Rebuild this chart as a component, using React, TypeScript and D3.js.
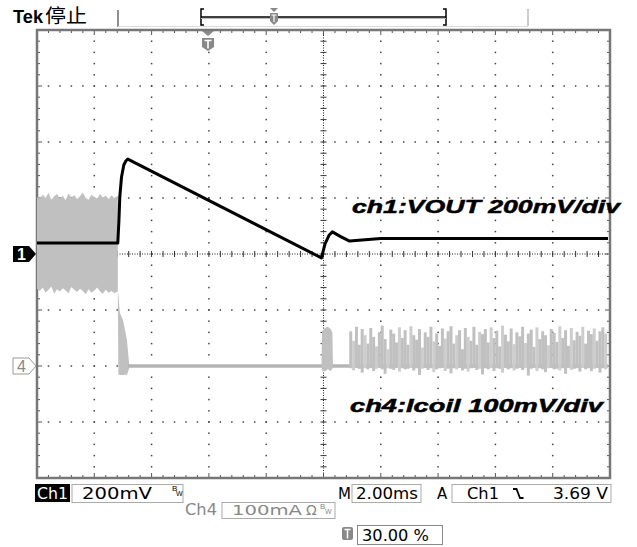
import React from "react";
import * as d3 from "d3";

// ---- data (time in ms, ch1 in mV rel. to marker, ch4 in mA rel. to marker) ----
const ch1Time = [0, 2.82, 2.86, 2.89, 2.95, 3.03, 3.1, 3.17, 9.93, 10.05, 10.2, 10.31, 10.6, 10.91, 12, 19.93];
const ch1Mv = [39, 39, 120, 204, 275, 318, 332, 339, -14, 35, 68, 79, 62, 46, 55, 55];

const bandStart = 0;
const bandStep = 0.1;
const bandUpper = [302, 298, 306, 300, 309, 297, 303, 307, 299, 304, 296, 308, 301, 305, 298, 303, 310, 300, 297, 306, 302, 299, 307, 301, 304, 298, 305, 300, 303];
const bandLower = [138, 134, 140, 131, 136, 142, 129, 137, 133, 139, 135, 130, 141, 136, 132, 138, 134, 128, 137, 131, 135, 140, 133, 129, 136, 131, 134, 130, 133];

const fallTime = [2.82, 2.84, 2.89, 3.0, 3.08, 3.14, 3.22];
const fallUpper = [135, 128, 95, 82, 62, 46, 2];
const fallLower = [135, -15, -16, -16, -15, -16, -4];

const burstTime = [9.93, 9.95, 10.05, 10.15, 10.25, 10.31, 10.33];
const burstUpper = [0, 62, 68, 70, 66, 60, 0];
const burstLower = [0, -8, -10, -6, -9, -5, 0];

const spikeStart = 10.95;
const spikeStep = 0.1;
const spikeTop = [
  62, 45, 70, 38, 66, 55, 40, 68, 52, 35,
  60, 72, 48, 30, 65, 58, 42, 69, 50, 64,
  38, 71, 55, 47, 66, 33, 60, 52, 70, 44,
  58, 36, 67, 49, 62, 71, 40, 55, 64, 30,
  68, 52, 45, 70, 38, 61, 57, 66, 42, 69,
  50, 63, 35, 72, 56, 44, 67, 39, 60, 53,
  70, 41, 58, 65, 34, 69, 48, 62, 55, 37,
  66, 59, 43, 71, 50, 64, 36, 68, 46, 61,
  54, 70, 40, 63, 57, 67, 45, 62, 69, 58,
];
const spikeDip = [
  -4, -8, -3, -5, -12, -4, -6, -3, -9, -5,
  -3, -6, -14, -4, -5, -7, -3, -10, -4, -6,
  -5, -3, -8, -4, -16, -5, -3, -7, -4, -11,
  -6, -4, -3, -9, -5, -13, -4, -6, -3, -8,
  -5, -10, -4, -3, -7, -5, -15, -4, -6, -3,
  -9, -4, -5, -12, -3, -6, -4, -8, -5, -3,
  -7, -4, -17, -5, -3, -9, -4, -6, -11, -4,
  -3, -6, -5, -8, -4, -14, -3, -7, -5, -4,
  -10, -3, -6, -4, -9, -5, -3, -12, -4, -6,
];

const ch1Label = "ch1:VOUT 200mV/div";
const ch4Label = "ch4:Icoil 100mV/div";

// ---- layout ----
const L = 37, R = 610, T = 30, B = 478;
const x = d3.scaleLinear().domain([0, 20]).range([L, R]);
const y1 = d3.scaleLinear().domain([-800, 800]).range([B, T]);
const y4 = d3.scaleLinear().domain([-200, 600]).range([B, T]);

const FONT = "'Liberation Sans', Arial, sans-serif";
const RFONT = "'DejaVu Sans', 'Liberation Sans', sans-serif";

export default function App() {
  const divX = (R - L) / 10;
  const divY = (B - T) / 8;

  const dots: JSX.Element[] = [];
  for (let i = 1; i < 10; i++) {
    if (i === 5) continue;
    const gx = L + i * divX;
    for (let k = 1; k < 40; k++) {
      dots.push(<rect key={`v${i}-${k}`} x={gx - 0.75} y={T + (k * divY) / 5 - 0.75} width={1.5} height={1.5} fill="#444" />);
    }
  }
  for (let j = 1; j < 8; j++) {
    if (j === 4) continue;
    const gy = T + j * divY;
    for (let k = 1; k < 50; k++) {
      dots.push(<rect key={`h${j}-${k}`} x={L + (k * divX) / 5 - 0.75} y={gy - 0.75} width={1.5} height={1.5} fill="#444" />);
    }
  }
  const cx = L + 5 * divX;
  const cy = T + 4 * divY;
  const ticks: JSX.Element[] = [];
  for (let k = 1; k < 50; k++) {
    const tx = L + (k * divX) / 5;
    ticks.push(<line key={`ct${k}`} x1={tx} x2={tx} y1={cy - 3} y2={cy + 3} stroke="#333" strokeWidth={1} />);
    ticks.push(<line key={`tt${k}`} x1={tx} x2={tx} y1={T} y2={T + (k % 5 === 0 ? 5 : 3)} stroke="#555" strokeWidth={1} />);
    ticks.push(<line key={`bt${k}`} x1={tx} x2={tx} y1={B} y2={B - (k % 5 === 0 ? 5 : 3)} stroke="#555" strokeWidth={1} />);
  }
  for (let k = 1; k < 40; k++) {
    const ty = T + (k * divY) / 5;
    ticks.push(<line key={`cv${k}`} x1={cx - 3} x2={cx + 3} y1={ty} y2={ty} stroke="#333" strokeWidth={1} />);
    ticks.push(<line key={`lt${k}`} x1={L} x2={L + (k % 5 === 0 ? 5 : 3)} y1={ty} y2={ty} stroke="#555" strokeWidth={1} />);
    ticks.push(<line key={`rt${k}`} x1={R} x2={R - (k % 5 === 0 ? 5 : 3)} y1={ty} y2={ty} stroke="#555" strokeWidth={1} />);
  }

  const bandTimes = bandUpper.map((_, i) => bandStart + i * bandStep);
  const bandArea = d3
    .area<number>()
    .x((_, i) => x(bandTimes[i]))
    .y0((_, i) => y4(bandLower[i]))
    .y1((d) => y4(d));
  const bandEnd = x(2.82);

  const fallArea = d3
    .area<number>()
    .x((_, i) => x(fallTime[i]))
    .y0((_, i) => y4(fallLower[i]))
    .y1((d) => y4(d));
  const burstArea = d3
    .area<number>()
    .x((_, i) => x(burstTime[i]))
    .y0((_, i) => y4(burstLower[i]))
    .y1((d) => y4(d));

  const ch1Line = d3
    .line<number>()
    .x((_, i) => x(ch1Time[i]))
    .y((d) => y1(d));

  const gray = "#c0c0c0";

  return (
    <svg width={637} height={547} style={{ position: "absolute", left: 0, top: 0, background: "#fff" }}>
      <rect x={0} y={0} width={637} height={547} fill="#fff" />
      {/* header */}
      <text x={13} y={23} fontFamily={FONT} fontWeight="bold" fontSize={18} fill="#000" textLength={30} lengthAdjust="spacingAndGlyphs">Tek</text>
      <text x={45} y={23} fontFamily="'Noto Sans CJK SC', sans-serif" fontSize={19} fill="#000" textLength={42} lengthAdjust="spacingAndGlyphs">停止</text>
      <line x1={118} x2={118} y1={10} y2={27} stroke="#444" strokeWidth={1.2} />
      <line x1={118} x2={528} y1={26.5} y2={26.5} stroke="#ddd" strokeWidth={1} />
      <path d="M204,9 H201 V25 H204" fill="none" stroke="#000" strokeWidth={1.5} />
      <path d="M443,9 H446 V25 H443" fill="none" stroke="#000" strokeWidth={1.5} />
      <line x1={201} x2={446} y1={17} y2={17} stroke="#000" strokeWidth={1.3} />
      <line x1={201} x2={446} y1={18.5} y2={18.5} stroke="#bbb" strokeWidth={1} />
      <path d="M270,8 h8 l-4,4 z" fill="#888" />
      <path d="M270,13 h8 v8 l-4,4 l-4,-4 z" fill="#888" />
      <path d="M271.5,15 h5 M274,15 v7" stroke="#fff" strokeWidth={1.2} />
      <line x1={528} x2={528} y1={9} y2={26} stroke="#ccc" strokeWidth={2} />

      {/* graticule */}
      {dots}
      <line x1={L} x2={R} y1={cy} y2={cy} stroke="#222" strokeWidth={1} strokeDasharray="1,1.5" />
      <line x1={cx} x2={cx} y1={T} y2={B} stroke="#222" strokeWidth={1} strokeDasharray="1,1.5" />
      {ticks}
      <rect x={L} y={T} width={R - L} height={B - T} fill="none" stroke="#777" strokeWidth={2.5} />

      {/* ch4 trace */}
      <path d={bandArea(bandUpper) || ""} fill={gray} />
      <rect x={x(2.79)} y={y4(303)} width={bandEnd - x(2.79)} height={y4(133) - y4(303)} fill={gray} />
      <path d={fallArea(fallUpper) || ""} fill={gray} />
      <line x1={x(3.17)} x2={x(19.93)} y1={y4(0)} y2={y4(0)} stroke="#b4b4b4" strokeWidth={3.5} />
      <path d={burstArea(burstUpper) || ""} fill={gray} />
      {spikeTop.map((h, i) => {
        const t = spikeStart + i * spikeStep;
        return (
          <line key={`s${i}`} x1={x(t)} x2={x(t)} y1={y4(spikeDip[i])} y2={y4(h)} stroke={i % 4 === 1 ? "#cdcdcd" : gray} strokeWidth={3} />
        );
      })}

      {/* ch1 trace */}
      <path d={ch1Line(ch1Mv) || ""} fill="none" stroke="#000" strokeWidth={3} strokeLinejoin="round" />

      {/* T marker under top */}
      <path d="M202,31 h12 l-6,5 z" fill="#888" />
      <path d="M202,38 h12 v9 l-6,4 l-6,-4 z" fill="#888" />
      <path d="M204.5,40.5 h7 M208,40.5 v8" stroke="#fff" strokeWidth={1.6} />

      {/* channel markers */}
      <path d={`M13,${cy - 8} H29 L36,${cy} L29,${cy + 8} H13 Z`} fill="#000" />
      <text x={17} y={cy + 6} fontFamily={FONT} fontWeight="bold" fontSize={16} fill="#fff">1</text>
      <path d={`M13,${y4(0) - 8} H29 L36,${y4(0)} L29,${y4(0) + 8} H13 Z`} fill="#fff" stroke="#999" strokeWidth={1} />
      <text x={17} y={y4(0) + 6} fontFamily={FONT} fontSize={16} fill="#888">4</text>

      {/* labels */}
      <text x={352} y={213} fontFamily={FONT} fontWeight="bold" fontStyle="italic" fontSize={19} fill="#000" stroke="#000" strokeWidth={0.5} textLength={268} lengthAdjust="spacingAndGlyphs">{ch1Label}</text>
      <text x={350} y={412} fontFamily={FONT} fontWeight="bold" fontStyle="italic" fontSize={19} fill="#000" stroke="#000" strokeWidth={0.5} textLength={253} lengthAdjust="spacingAndGlyphs">{ch4Label}</text>

      {/* bottom readouts */}
      <rect x={35} y={484} width={35} height={18} fill="#000" />
      <text x={37} y={499} fontFamily={RFONT} fontSize={15} fill="#fff" textLength={31} lengthAdjust="spacingAndGlyphs">Ch1</text>
      <rect x={72} y={484.5} width={111} height={18} fill="none" stroke="#aaa" strokeWidth={1} />
      <text x={82} y={499} fontFamily={RFONT} fontSize={15} fill="#000" textLength={70} lengthAdjust="spacingAndGlyphs">200mV</text>
      <text x={172} y={491} fontFamily={FONT} fontSize={8} fill="#000">B</text>
      <text x={176} y={496} fontFamily={FONT} fontSize={7} fill="#000">W</text>

      <text x={338} y={499} fontFamily={RFONT} fontSize={15} fill="#000">M</text>
      <rect x={352} y={484.5} width={69} height={18} fill="none" stroke="#aaa" strokeWidth={1} />
      <text x={356} y={499} fontFamily={RFONT} fontSize={15} fill="#000" textLength={62} lengthAdjust="spacingAndGlyphs">2.00ms</text>
      <text x={437} y={499} fontFamily={RFONT} fontSize={15} fill="#000">A</text>
      <rect x={452} y={484.5} width={159} height={18} fill="none" stroke="#aaa" strokeWidth={1} />
      <text x={467} y={499} fontFamily={RFONT} fontSize={15} fill="#000" textLength={32} lengthAdjust="spacingAndGlyphs">Ch1</text>
      <path d="M513,489 h3.5 l3.5,9 h3.5" fill="none" stroke="#000" strokeWidth={1.8} />
      <text x={553} y={499} fontFamily={RFONT} fontSize={15} fill="#000" textLength={55} lengthAdjust="spacingAndGlyphs">3.69 V</text>

      <text x={185} y={515} fontFamily={RFONT} fontSize={15} fill="#888" textLength={32} lengthAdjust="spacingAndGlyphs">Ch4</text>
      <rect x={222} y={502.5} width={113} height={16} fill="none" stroke="#aaa" strokeWidth={1} />
      <text x={232} y={515} fontFamily={RFONT} fontSize={14} fill="#888" textLength={70} lengthAdjust="spacingAndGlyphs">100mA</text>
      <text x={306} y={515} fontFamily={RFONT} fontSize={14} fill="#888">Ω</text>
      <text x={320} y={509} fontFamily={FONT} fontSize={8} fill="#888">B</text>
      <text x={325} y={514} fontFamily={FONT} fontSize={7} fill="#888">W</text>

      <rect x={342} y={527} width={11} height={13} rx={2} fill="#888" />
      <path d="M344.5,529.5 h6 M347.5,529.5 v9" stroke="#fff" strokeWidth={1.5} />
      <rect x={357.5} y={525.5} width={85} height={19} fill="none" stroke="#888" strokeWidth={1} />
      <text x={362} y={541} fontFamily={RFONT} fontSize={15} fill="#000" textLength={67} lengthAdjust="spacingAndGlyphs">30.00 %</text>
    </svg>
  );
}
